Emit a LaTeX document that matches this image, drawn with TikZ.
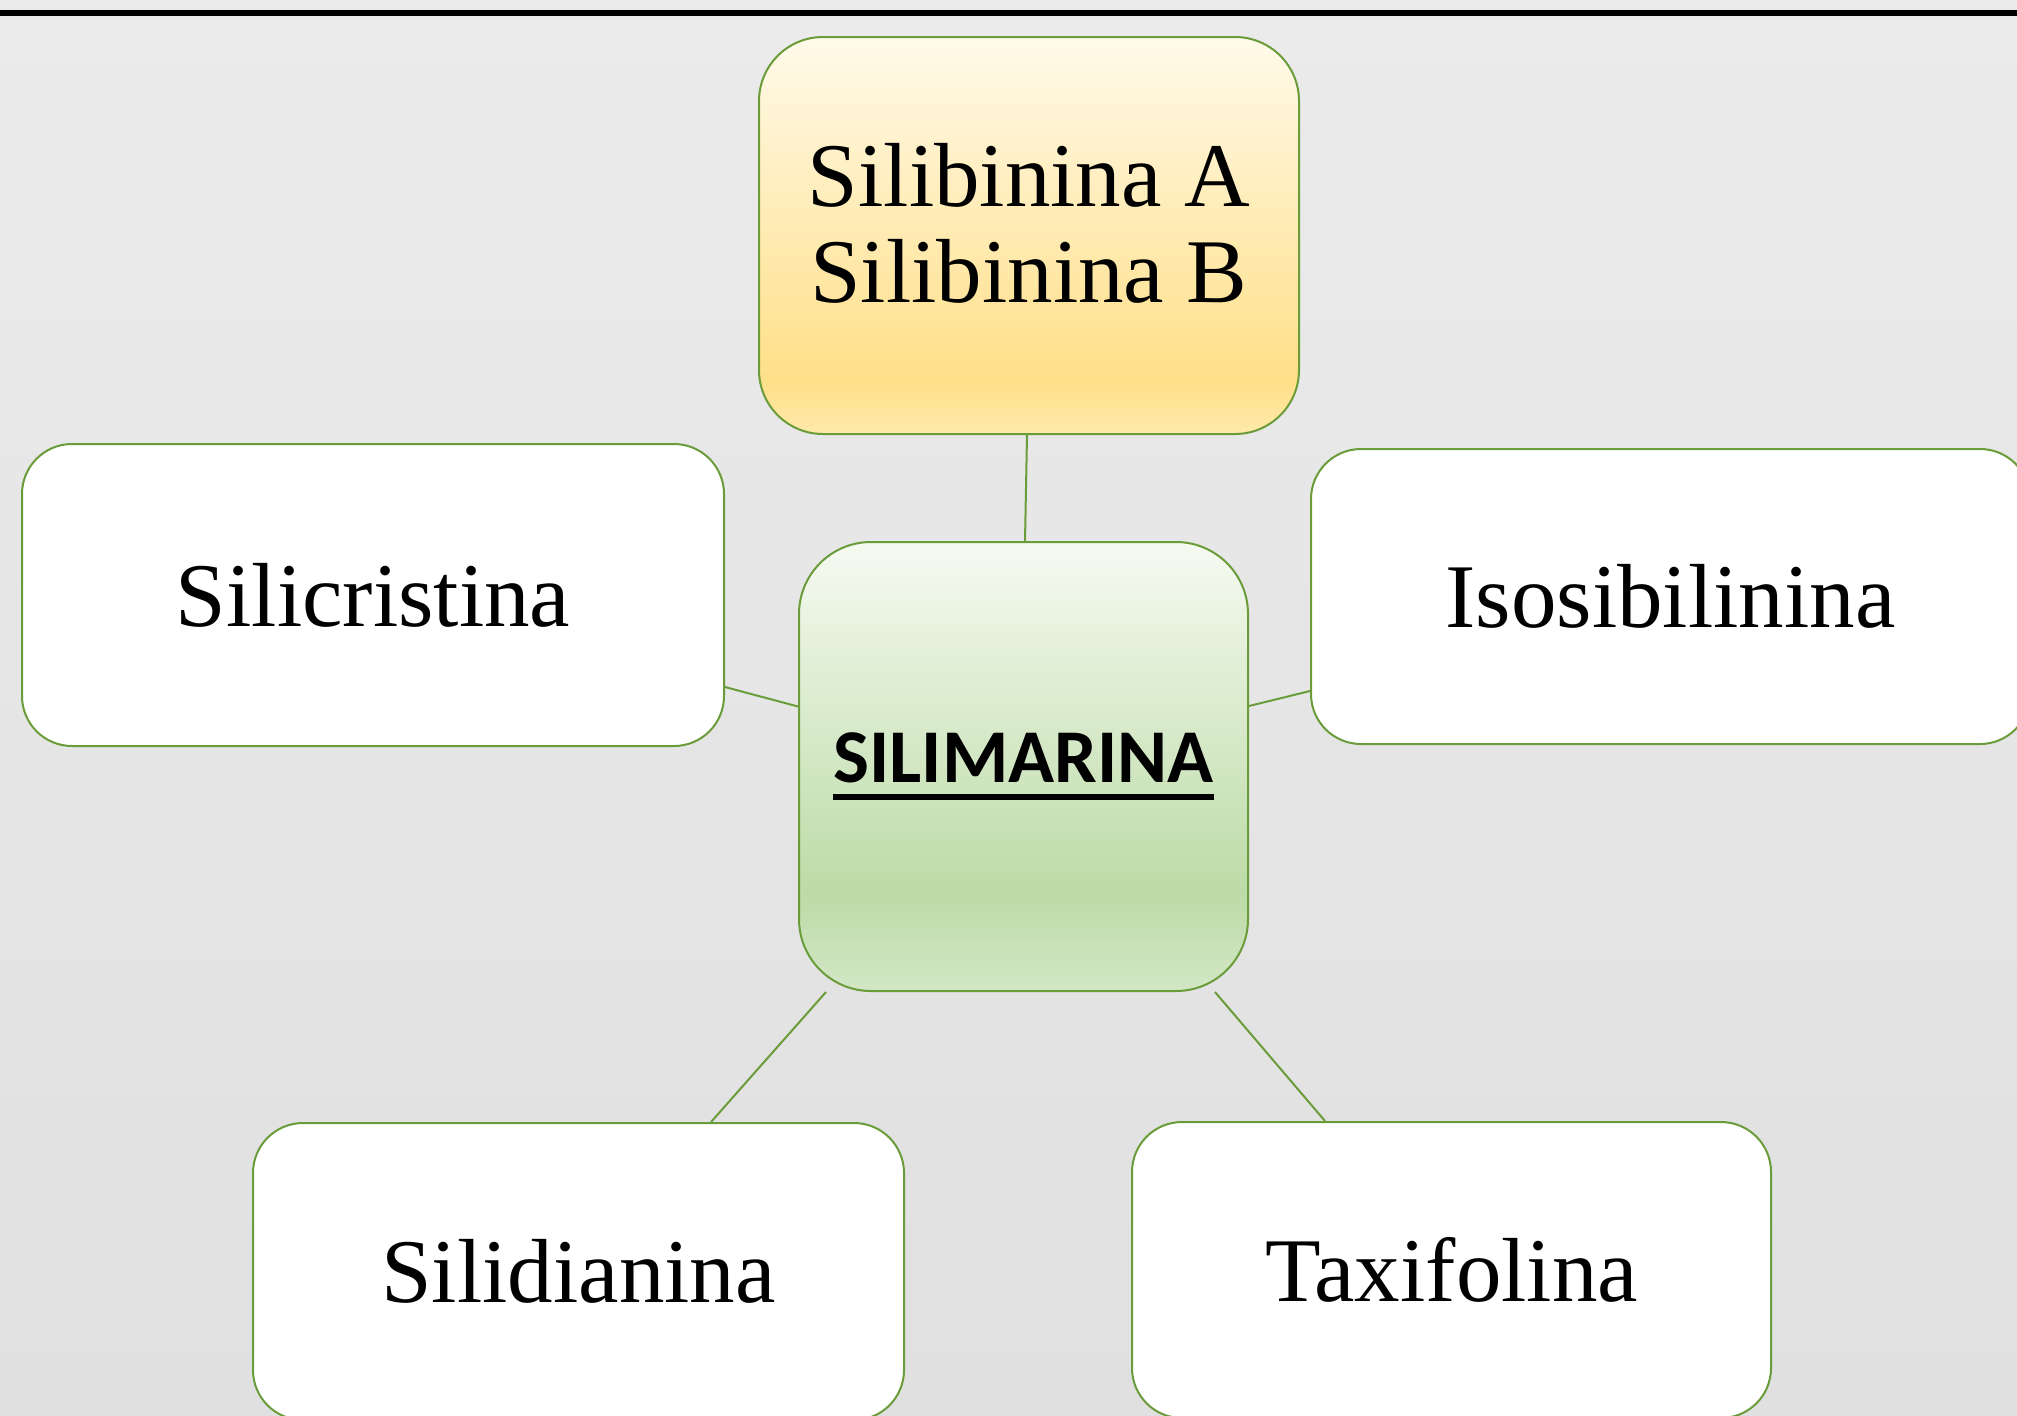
\documentclass[tikz,border=0pt]{standalone}
\usepackage{fontspec}
\setmainfont{Liberation Serif}
\setsansfont{Carlito}
\usetikzlibrary{calc}
\newcommand\myul[1]{\setbox0\hbox{#1}\rlap{\rule[-8.5pt]{\wd0}{2.8pt}}\box0}
\definecolor{bgtop}{HTML}{EBEBEB}
\definecolor{bgbot}{HTML}{E0E0E0}
\definecolor{edge}{HTML}{6A9C3A}
\definecolor{yA}{HTML}{FFFAEA}
\definecolor{yB}{HTML}{FFDF88}
\definecolor{yC}{HTML}{FFEAAA}
\definecolor{gA}{HTML}{F6FAF2}
\definecolor{gB}{HTML}{BCDBA6}
\definecolor{gC}{HTML}{D3E7C6}
\pgfdeclareverticalshading{yellowsh}{100bp}{color(0bp)=(yC); color(25bp)=(yC); color(32bp)=(yB); color(75bp)=(yA); color(100bp)=(yA)}
\pgfdeclareverticalshading{greensh}{100bp}{color(0bp)=(gC); color(25bp)=(gC); color(36bp)=(gB); color(75bp)=(gA); color(100bp)=(gA)}
\tikzset{
  box/.style={draw=edge, line width=1pt, rectangle, align=center, inner sep=0pt,
    font=\rmfamily\fontsize{45.5}{48}\selectfont},
  link/.style={draw=edge, line width=1pt}
}
\begin{document}
\begin{tikzpicture}[x=0.5pt,y=-0.5pt]
\useasboundingbox (0,0) rectangle (2017,1415);
\shade[top color=bgtop, bottom color=bgbot] (0,0) rectangle (2017,1415);
\draw[line width=3.2pt, black] (0,13) -- (2017,13);

\node[box, shading=yellowsh, rounded corners=32pt, minimum width=270pt, minimum height=198.5pt]
  (t) at (1029,235.5) {\raisebox{0.5pt}{\begin{tabular}{@{}c@{}}Silibinina A\\Silibinina B\end{tabular}}};
\node[box, shading=greensh, rounded corners=36pt, minimum width=224.5pt, minimum height=224.5pt,
  font=\sffamily\bfseries\fontsize{38}{42}\selectfont]
  (c) at (1023.5,766.5) {\myul{SILIMARINA}};
\node[box, fill=white, rounded corners=25pt, minimum width=351pt, minimum height=151pt]
  (l) at (373,595) {Silicristina};
\node[box, fill=white, rounded corners=25pt, minimum width=359.5pt, minimum height=147.5pt]
  (r) at (1670.5,596.5) {Isosibilinina};
\node[box, fill=white, rounded corners=25pt, minimum width=325.5pt, minimum height=148.5pt]
  (bl) at (578.5,1271.5) {Silidianina};
\node[box, fill=white, rounded corners=25pt, minimum width=319.5pt, minimum height=148pt]
  (br) at (1451.5,1270) {Taxifolina};

\draw[link] ($(t.south)+(-2,0)$) -- ($(c.north)+(1.5,0)$);
\draw[link] ($(l.east)+(0,92)$) -- ($(c.west)+(0,-60)$);
\draw[link] ($(c.east)+(0,-60.5)$) -- ($(r.west)+(0,94.5)$);
\draw[link] ($(c.south west)+(28,0)$) -- ($(bl.north)+(132.5,0)$);
\draw[link] ($(c.south east)+(-34,0)$) -- ($(br.north)+(-126.5,0)$);
\end{tikzpicture}
\end{document}
